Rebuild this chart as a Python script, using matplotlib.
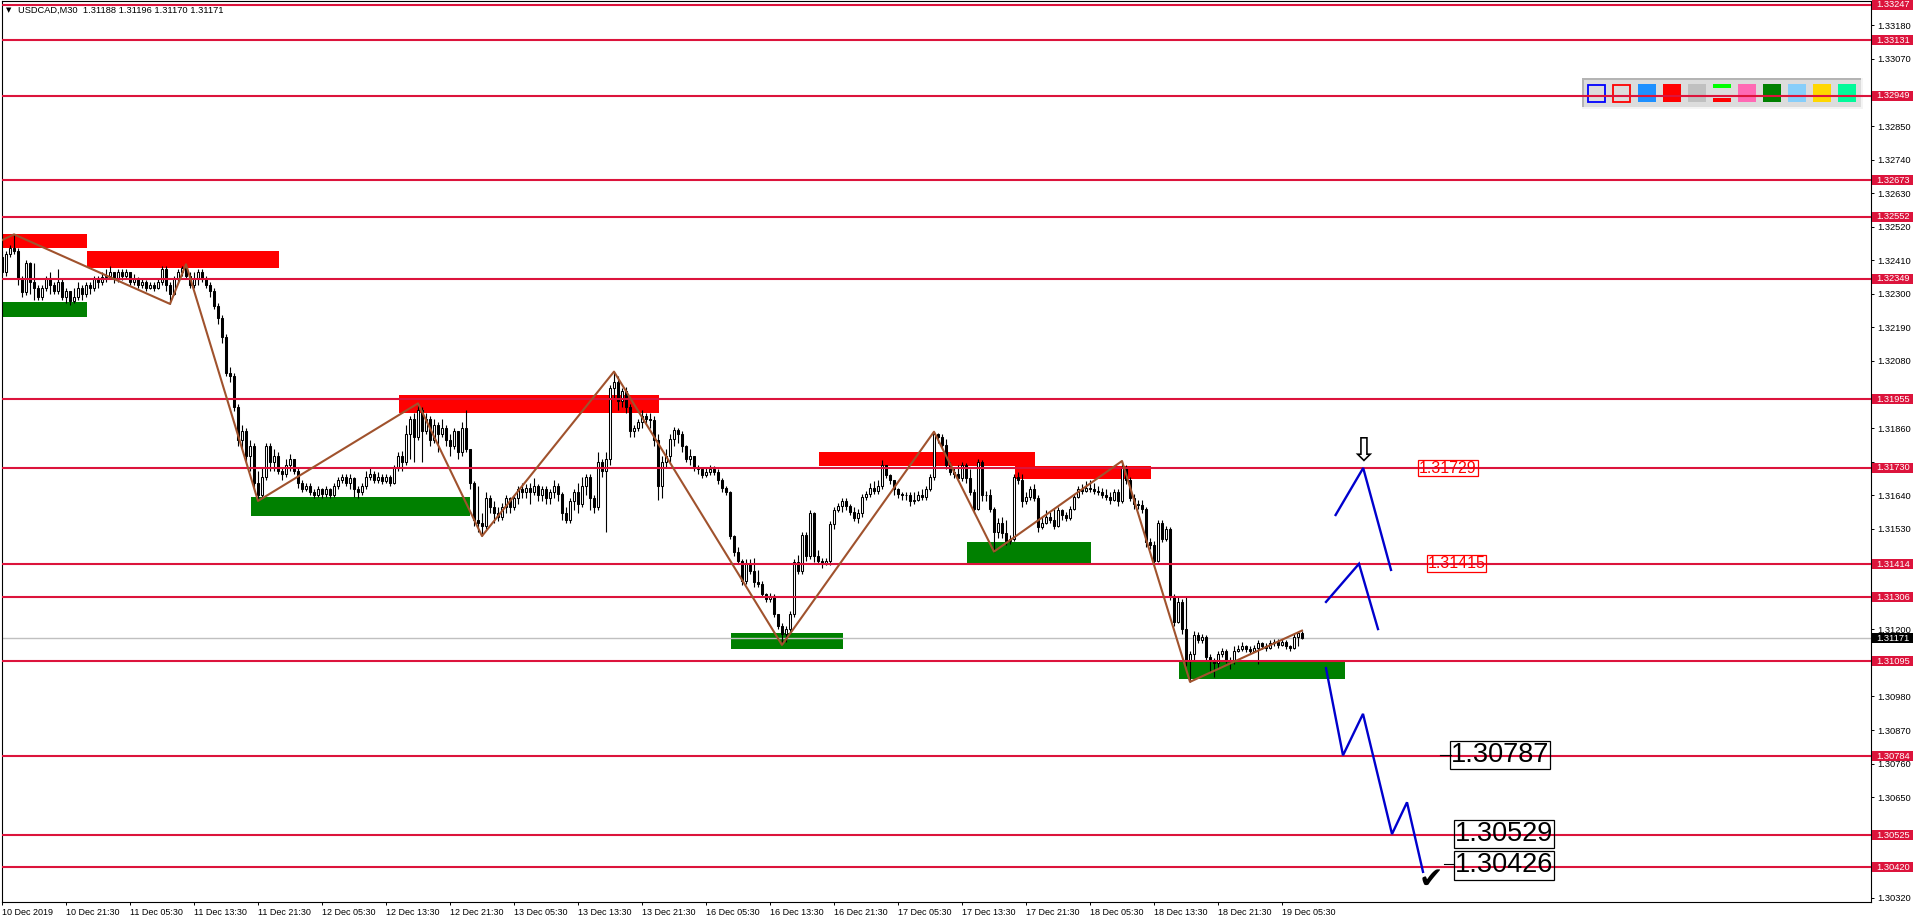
import matplotlib.pyplot as plt
import matplotlib.transforms as mtransforms
from matplotlib.patches import Rectangle
import numpy as np

plt.rcParams['font.family'] = ['Liberation Sans', 'DejaVu Sans']

W, H = 1916, 923            # output size in px
AX_W = 1869                 # plot area width in px
PX_PER_BAR = 4
PX_PER_PRICE = 30502        # vertical scale of the reference chart (px per 1.0)

# ---------------- data ----------------
header = "USDCAD,M30  1.31188 1.31196 1.31170 1.31171"

# M30 candles starting 10 Dec 13:30, values in pips above 1.30000
first_open = 242
close = [
    237, 243, 245, 244, 235, 230.5, 240, 234, 232, 229,
    232, 235, 233, 231, 234, 229, 231, 227.5, 229, 232,
    230, 233, 232, 235, 234, 235.5, 236, 237, 235, 237,
    236, 237, 234, 235, 233, 234, 232, 233, 232, 234,
    238, 233, 230, 235, 237, 238.5, 236, 233, 235, 237,
    235, 233, 231, 226, 222, 216, 204, 203, 193, 182,
    185, 177, 180, 168, 164, 170, 180, 175, 177, 172,
    171, 174, 176, 172, 168, 166, 167, 165, 164, 166,
    164.5, 166, 164, 167, 169, 170, 168, 169.5, 166, 165,
    167, 170, 171, 169, 170, 168.5, 170, 168, 173, 177,
    175, 184, 189, 183, 192, 185, 189, 182, 187, 184,
    186, 182, 180, 185, 178, 186, 179, 168, 156, 155,
    154, 163, 160, 158, 157, 160, 163, 160, 163, 166,
    165, 166.5, 165, 167, 164, 166, 163, 165, 167, 164.5,
    158, 156, 162, 165, 161, 167, 170, 163, 160, 175,
    172, 176, 199, 201, 195, 198, 193, 185, 186, 188,
    190, 189, 188.5, 182, 167, 175, 177, 182.5, 185.5, 184,
    180, 176, 177, 173, 172.5, 170.5, 171.5, 172.5, 171.5, 169,
    166.5, 165, 150.5, 145.5, 142.5, 136, 141.5, 139, 135.5, 135,
    131.5, 130, 131, 125, 121, 118.5, 120, 125, 142, 139,
    151, 144, 158, 144, 142.5, 141.5, 142.5, 154.5, 159, 160.5,
    162, 160.5, 158.5, 156.5, 158, 163.5, 164.5, 166.5, 165.5, 167,
    174, 170.5, 169, 166, 164.5, 164, 164, 162, 162.5, 164,
    163.5, 166, 170, 184, 183, 180.5, 174, 171.5, 171, 169.5,
    174, 169.5, 165, 159.5, 175, 164, 164, 159.5, 152, 155,
    151.5, 149, 149.5, 170, 169, 162, 163.5, 166, 163, 153.5,
    155, 157, 156, 154, 159, 157.5, 156.5, 159.5, 163.5, 166,
    165.5, 166.5, 166, 165.5, 165, 164, 163.5, 162.5, 165, 162,
    173, 169, 163, 161, 160.8, 159.5, 148.5, 147.5, 142.5, 155,
    149.5, 153, 131, 122.5, 129, 120, 110, 112, 118, 116.5,
    117.5, 111, 109.5, 109, 112, 113, 110, 109.5, 113, 113.5,
    114.5, 113.5, 113, 114, 115.5, 114.5, 114, 115.5, 116, 115,
    116, 114.5, 114, 117.5, 118.8, 117.1,
]
high = [
    244, 244, 246, 249.5, 245, 236, 241, 240.5, 240, 233,
    233, 236, 237, 234, 238, 235, 232, 231, 232, 234,
    233, 234, 234, 236, 236, 237, 238, 239, 237, 238,
    238, 238, 237, 236.5, 235.5, 235, 234.5, 234, 234, 235,
    239, 239, 234, 236, 238, 239, 239.7, 237, 237, 238,
    238, 236, 234, 232, 227, 223, 217, 206, 204, 194,
    187, 186, 182, 181, 172, 173, 181, 181, 179, 178,
    173, 176, 177.5, 176, 173, 169, 168, 168, 166, 167,
    166.5, 167, 166.5, 168, 170, 171, 171, 171, 170, 167,
    168, 172, 173, 172, 171.5, 171, 171, 170.5, 174, 178,
    178.5, 187, 190, 191, 194.1, 193, 191, 190, 189, 188,
    189, 187, 184, 186, 185, 188, 192, 176, 168.5, 167,
    158, 165, 164, 162, 160, 161.5, 164, 163.5, 164, 167,
    168, 167.5, 168, 169.5, 167.5, 167, 167, 166, 169, 168,
    165, 160, 163, 166, 168, 170, 171, 171, 164, 178,
    176, 178, 200, 204.5, 203, 199, 199.5, 194, 187, 189,
    192, 191, 191, 190, 184, 177, 179, 184, 186.5, 186,
    185, 180.5, 179, 177, 174, 173, 173, 174, 173.5, 172.5,
    169.5, 167, 165.5, 151, 147, 143, 143, 143, 143.5, 139.5,
    136, 132, 132, 131.5, 125, 122, 121, 126, 143, 144.5,
    152, 152, 159, 158.5, 146, 143.5, 143.5, 155.5, 160, 161.5,
    163, 163, 161, 160, 159.5, 164.5, 165.5, 168, 168.5, 169,
    175.5, 174, 171, 169, 166.5, 165, 165, 165, 165, 165.5,
    166, 167, 171, 184.8, 184.5, 184, 182.5, 175, 173, 174,
    175, 174.5, 172.5, 166, 176, 175.5, 165.5, 166, 160, 156.5,
    157, 156, 151, 171, 171.5, 171, 165, 167, 167.5, 164,
    157, 159, 158.5, 159.5, 160, 159.5, 158.5, 160.5, 164.5, 167,
    167.5, 168.5, 169, 168, 167, 166.5, 166, 165, 166, 166,
    175.2, 174, 170, 164.5, 162.5, 162.5, 160, 150, 149, 156,
    156, 154, 153.5, 131.5, 130.5, 130, 131, 113, 119.5, 119,
    118.5, 118, 112, 110.5, 113, 114, 113.5, 111, 114.5, 115,
    116, 115, 114.5, 115, 116.5, 116, 115.5, 116.5, 117, 117,
    117, 116.5, 115, 118.5, 119.2, 119.6,
]
low = [
    236, 236, 242, 243, 233, 229, 229.5, 230, 228, 228,
    228, 231, 230, 230, 230, 228, 227, 226.3, 227, 228,
    228, 229, 230, 231, 232, 233, 234, 235, 233.5, 234,
    234.5, 235, 233, 233, 232, 232, 231, 231.5, 231, 231.5,
    233, 231, 226.7, 229.5, 234, 236, 235, 232, 232, 233,
    234, 232, 229, 225, 220, 214, 203, 201, 191.5, 180,
    179, 175, 172, 166, 162.1, 163, 169, 172, 172, 171,
    169, 170, 172, 171, 166.5, 165, 165.5, 164, 163, 163.5,
    163, 163.5, 163, 163.5, 166, 168, 167, 166, 163.5, 163,
    164, 166, 169, 168, 168, 167.5, 168, 167, 167.5, 172,
    172, 174, 176, 175, 182, 175, 184, 180, 181, 178,
    183, 180, 177, 179, 176, 177, 178, 166, 154, 152,
    150.6, 153, 158, 155, 155.5, 156, 158, 158, 159, 161,
    163, 163, 161, 164, 162, 162, 161, 161, 163, 162,
    156, 154.8, 155, 159, 158, 160, 164, 159, 158, 159,
    170, 152, 174, 196, 192, 193, 191, 183, 183, 185,
    186, 187.5, 186, 180, 162.5, 163, 173, 175, 180, 181,
    178, 175, 174, 172, 171, 169.5, 170, 170.5, 170.5, 167.5,
    165, 164, 149.5, 144, 141.5, 134.5, 135, 138, 134, 134,
    130.5, 129, 129, 124, 120, 114.9, 116, 118.5, 124, 138,
    138, 142.5, 143, 142, 141.5, 140, 141, 141, 153, 158.5,
    158.5, 159, 157.5, 155.5, 155, 157, 162.5, 163.5, 164.5, 164.5,
    166, 169.5, 167.5, 164, 163, 162.5, 162.5, 160.5, 161, 162,
    162.5, 162.5, 165.5, 169, 181, 179, 172.5, 170.5, 169.5, 168.5,
    168.5, 168, 164, 158, 159, 162, 162, 158.5, 145.5, 150,
    150, 147.5, 148, 149, 167.5, 160, 161, 162.5, 162, 152,
    153, 154.5, 155, 153, 153.5, 156, 155.5, 156, 159, 163,
    164.5, 165, 165, 164.5, 164, 163, 162.5, 161, 162, 160.5,
    161.5, 167.5, 162, 159.5, 159.5, 158, 147, 146.5, 141, 142,
    148.5, 149, 129.5, 121, 122, 118.5, 108, 102.8, 110, 115.5,
    115.5, 109.5, 106, 104.5, 107.5, 111, 109, 107, 108.5, 112.5,
    113, 112.5, 112, 112.5, 108.5, 113.5, 113, 113.5, 114.5, 114,
    114.5, 113.5, 113, 113.5, 114.5, 117.0,
]

time_labels = [
    "10 Dec 2019", "10 Dec 21:30", "11 Dec 05:30", "11 Dec 13:30", "11 Dec 21:30",
    "12 Dec 05:30", "12 Dec 13:30", "12 Dec 21:30", "13 Dec 05:30", "13 Dec 13:30",
    "13 Dec 21:30", "16 Dec 05:30", "16 Dec 13:30", "16 Dec 21:30", "17 Dec 05:30",
    "17 Dec 13:30", "17 Dec 21:30", "18 Dec 05:30", "18 Dec 13:30", "18 Dec 21:30",
    "19 Dec 05:30",
]
bars_per_label = 16

price_ticks = [1.30320, 1.30430, 1.30540, 1.30650, 1.30760, 1.30870, 1.30980,
               1.31090, 1.31200, 1.31310, 1.31420, 1.31530, 1.31640, 1.31750,
               1.31860, 1.31970, 1.32080, 1.32190, 1.32300, 1.32410, 1.32520,
               1.32630, 1.32740, 1.32850, 1.32960, 1.33070, 1.33180]

levels = [1.33247, 1.33131, 1.32949, 1.32673, 1.32552, 1.32349, 1.31955,
          1.31730, 1.31414, 1.31306, 1.31095, 1.30784, 1.30525, 1.30420]
bid = 1.31171

# zigzag swing points (bar, pips)
zz_bar = [0, 3, 42, 46, 64, 104, 120, 153, 195, 233, 248, 280, 297, 325]
zz_pip = [247.6, 249.5, 226.7, 239.7, 162.1, 194.1, 150.6, 204.5, 114.9,
          184.8, 145.5, 175.2, 102.8, 119.6]

# supply / demand boxes: (first bar, last bar, low pips, high pips)
supply = [(0, 21.25, 244.9, 249.7), (21.25, 69.25, 238.6, 244.0),
          (99.25, 164.25, 191.1, 196.9), (204.25, 258.25, 173.6, 178.1),
          (253.25, 287.25, 169.4, 173.6)]
demand = [(0, 21.25, 222.4, 227.3), (62.25, 117.1, 157.3, 163.4),
          (182.25, 210.25, 113.7, 118.8), (241.25, 272.15, 141.8, 148.6),
          (294.25, 335.75, 103.8, 109.3)]

# projected paths (bar, pips)
path_a_bar = [333.4, 340.3, 347.25]
path_a_pip = [157.5, 172.9, 139.5]
path_b_bar = [331, 339.25, 344]
path_b_pip = [129.0, 141.5, 120.1]
path_c_bar = [331, 335.25, 340.25, 347.5, 351.25, 355.25]
path_c_pip = [107.3, 78.7, 92.3, 52.9, 63.3, 40.5]

target_up = [1.31729, 1.31415]
target_down = [1.30787, 1.30529, 1.30426]


def px(p):
    return 1.3 + np.asarray(p, dtype=float) / 1e4


CRIMSON = '#DC143C'

fig = plt.figure(figsize=(W / 100, H / 100), dpi=100)
ax = fig.add_axes([2 / W, 21 / H, AX_W / W, 901 / H])
ax.set_xlim(0, AX_W / PX_PER_BAR)
ax.set_ylim(1.303062, 1.332601)

# zones
for b0, b1, lo_, hi_ in supply:
    ax.add_patch(Rectangle((b0, px(lo_)), b1 - b0, px(hi_) - px(lo_),
                           facecolor='#FF0000', edgecolor='none', zorder=1))
for b0, b1, lo_, hi_ in demand:
    ax.add_patch(Rectangle((b0, px(lo_)), b1 - b0, px(hi_) - px(lo_),
                           facecolor='#008000', edgecolor='none', zorder=1))

# bid line
ax.axhline(bid, color='#C0C0C0', lw=1, zorder=1.8)

# candles
n = min(len(close), len(high), len(low))
x = np.arange(n)
c = px(close[:n])
o = np.concatenate([[px(first_open)], c[:-1]])
hi = np.maximum(px(high[:n]), np.maximum(o, c))
lo = np.minimum(px(low[:n]), np.minimum(o, c))
ax.vlines(x, lo, hi, color='black', lw=0.8, zorder=2)
up = c >= o
body = np.maximum(np.abs(c - o), 0.000008)
ax.bar(x[up], body[up], bottom=o[up], width=0.72, color='white',
       edgecolor='black', lw=0.75, zorder=2.1)
ax.bar(x[~up], body[~up], bottom=c[~up], width=0.72, color='black',
       edgecolor='black', lw=0.75, zorder=2.1)

# horizontal levels
for lv in levels:
    ax.axhline(lv, color=CRIMSON, lw=1.5, zorder=3)

# zigzag
ax.plot(zz_bar, px(zz_pip), color='#A0522D', lw=1.5, zorder=4)

# projected paths
for pb, pp in [(path_a_bar, path_a_pip), (path_b_bar, path_b_pip), (path_c_bar, path_c_pip)]:
    ax.plot(pb, px(pp), color='#0000CD', lw=1.7, zorder=5, solid_joinstyle='miter')

# target labels
for xb, val in zip([361.5, 363.6], target_up):
    ax.text(xb, val, f"{val:.5f}", color='#FF0000', fontsize=11.5, ha='center',
            va='center', zorder=6,
            bbox=dict(boxstyle='square,pad=0.05', fc='none', ec='#FF0000', lw=0.9))
for xb, val in zip([374.5, 375.45, 375.45], target_down):
    ax.text(xb, val, f"{val:.5f}", color='black', fontsize=19.5, ha='center',
            va='center', zorder=6,
            bbox=dict(boxstyle='square,pad=0.04', fc='none', ec='black', lw=0.9))
ax.plot([359.5, 362.2], [target_down[0] + 0.00002] * 2, color='black', lw=0.8, zorder=6)
ax.plot([360.5, 363.1], [target_down[2] + 0.00004] * 2, color='black', lw=0.8, zorder=6)
ax.text(340.25, 1.31786, "\u21e9", fontsize=24, ha='center', va='center',
        color='black', family='DejaVu Sans', zorder=6)
ax.text(357.25, 1.30378, "\u2714", fontsize=21, ha='center', va='center',
        color='black', family='DejaVu Sans', zorder=6)

# axes look
for sp in ax.spines.values():
    sp.set_color('black')
    sp.set_linewidth(0.8)
ax.yaxis.tick_right()
ax.set_yticks(price_ticks)
# scale labels hidden under a level's price box are left blank, as on the terminal
shown = [f"{t:.5f}" if min(abs(t - v) for v in levels) > 0.00021 else ""
         for t in price_ticks]
ax.set_yticklabels(shown)
ax.tick_params(axis='y', direction='out', length=2.5, width=0.7, pad=2,
               labelsize=6.7, colors='black')
ax.set_xticks([i * bars_per_label for i in range(len(time_labels))])
ax.set_xticklabels(time_labels)
for lab in ax.get_xticklabels():
    lab.set_horizontalalignment('left')
ax.tick_params(axis='x', direction='out', length=2.5, width=0.7, pad=2,
               labelsize=6.5, colors='black')

# price label boxes on the scale
trans = mtransforms.blended_transform_factory(ax.transAxes, ax.transData)
box_h = 10 / PX_PER_PRICE
for lv, fc in [(v, CRIMSON) for v in levels] + [(bid, 'black')]:
    ax.add_patch(Rectangle((1 + 1 / AX_W, lv - box_h / 2), 41 / AX_W, box_h,
                           transform=trans, facecolor=fc, edgecolor='none',
                           clip_on=False, zorder=7))
    ax.text(1 + 5 / AX_W, lv, f"{lv:.5f}", transform=trans, color='white',
            fontsize=6.7, ha='left', va='center', clip_on=False, zorder=8)

# header
fig.text(6 / W, 1 - 10.5 / H, "\u25bc", fontsize=5, family='DejaVu Sans',
         va='center', ha='left')
fig.text(18 / W, 1 - 10 / H, header, fontsize=6.7, va='center', ha='left')


# colour buttons panel (top right)
def fig_rect(x0, y0, w, h, **kw):
    return Rectangle((x0 / W, 1 - (y0 + h) / H), w / W, h / H,
                     transform=fig.transFigure, clip_on=False, zorder=2.5, **kw)


ax.add_patch(fig_rect(1582, 78, 281, 31, facecolor='#F4F4F4', edgecolor='none'))
ax.add_patch(fig_rect(1582, 78, 279, 29, facecolor='#DCDCDC', edgecolor='none'))
ax.add_patch(fig_rect(1582, 78, 279, 1.5, facecolor='#B4B4B4', edgecolor='none'))
ax.add_patch(fig_rect(1582, 78, 2, 29, facecolor='#B4B4B4', edgecolor='none'))
swatches = ['blue', 'red', '#1E90FF', '#FF0000', '#C0C0C0', 'bars',
            '#FF69B4', '#008000', '#87CEFA', '#FFD700', '#00FA9A']
for k, sw in enumerate(swatches):
    x0 = 1587.5 + 25 * k
    if k < 2:
        ax.add_patch(fig_rect(x0 + 0.8, 84.8, 16.5, 16.8, facecolor='none',
                              edgecolor=sw, lw=1.3))
    elif sw == 'bars':
        ax.add_patch(fig_rect(x0, 84, 18, 3.7, facecolor='#00FF00', edgecolor='none'))
        ax.add_patch(fig_rect(x0, 98, 18, 3.7, facecolor='#FF0000', edgecolor='none'))
    else:
        ax.add_patch(fig_rect(x0, 84, 18, 18.3, facecolor=sw, edgecolor='none'))

fig.savefig("out.png", dpi=100, facecolor='white')
